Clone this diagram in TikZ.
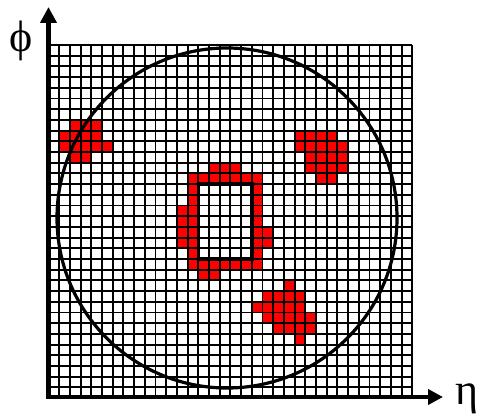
\documentclass[tikz,border=0pt]{standalone}
\usepackage{fontspec}
\setmainfont{Liberation Serif}
\usetikzlibrary{arrows.meta}
\begin{document}
\begin{tikzpicture}[x=1pt,y=-1pt,
  gridline/.style={line width=1.9pt,black},
  redcell/.style={fill={rgb,255:red,255;green,0;blue,0}},
  axisline/.style={line width=4.5pt,black,line join=miter},
  greeklabel/.style={font=\fontsize{44}{44}\selectfont,inner sep=0pt,anchor=base west}]
\useasboundingbox (0,0) rectangle (478,417);
\def\Xo{48.5}
\def\Yo{45}
\def\cs{10.7}
% red cells
\foreach \r/\a/\b in {7/2/4, 8/1/4, 9/1/5, 10/2/3,
  8/23/26, 9/23/27, 10/24/27, 11/24/27, 12/25/26,
  11/15/17, 12/13/19, 13/13/13, 13/19/19, 14/13/13, 14/19/19,
  15/12/13, 15/19/19, 16/12/13, 16/19/19, 17/12/13, 17/19/20,
  18/12/13, 18/19/20, 19/13/13, 19/19/19, 20/13/19, 21/14/15,
  22/22/22, 23/20/23, 24/19/23, 25/20/24, 26/21/24, 27/23/23}
  \foreach \c in {\a,...,\b}
    \fill[redcell] ({\Xo+\c*\cs},{\Yo+\r*\cs}) rectangle +(\cs,\cs);
% grid
\foreach \i in {0,...,34}
  \draw[gridline] ({\Xo+\i*\cs},\Yo) -- ({\Xo+\i*\cs},{\Yo+33*\cs});
\foreach \j in {0,...,33}
  \draw[gridline] (\Xo,{\Yo+\j*\cs}) -- ({\Xo+34*\cs},{\Yo+\j*\cs});
% inner rectangle
\draw[line width=3.5pt] ({\Xo+14*\cs},{\Yo+13*\cs}) rectangle ({\Xo+19*\cs},{\Yo+20*\cs});
% circle
\coordinate (center) at (227,218);
\draw[line width=3.2pt] (center) circle[radius=170];
% axes
\coordinate (origin) at (48.5,397);
\coordinate (ytip) at (48.5,7);
\coordinate (xtip) at (443,397);
\draw[axisline,{Triangle[length=16pt,width=16pt]}-{Triangle[length=15pt,width=15pt]}] (ytip) -- (origin) -- (xtip);
\node[greeklabel] (phi) at (9,52) {ϕ};
\node[greeklabel] (eta) at (455,404) {η};
\end{tikzpicture}
\end{document}
